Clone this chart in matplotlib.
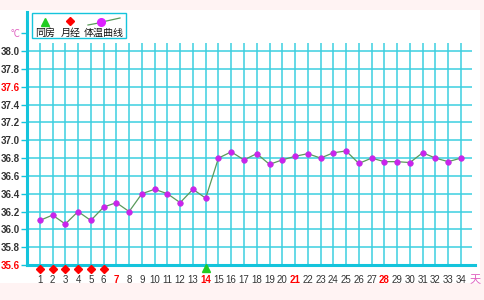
import matplotlib
matplotlib.use("Agg")
import matplotlib.pyplot as plt
from matplotlib.patches import Rectangle
from matplotlib.lines import Line2D

days = list(range(1, 35))
temps = [36.10, 36.16, 36.06, 36.20, 36.10, 36.25, 36.30, 36.20, 36.40, 36.45,
         36.40, 36.30, 36.45, 36.35, 36.80, 36.87, 36.78, 36.85, 36.73, 36.78,
         36.82, 36.85, 36.80, 36.86, 36.88, 36.74, 36.80, 36.76, 36.76, 36.75,
         36.86, 36.80, 36.76, 36.80]
period_days = [1, 2, 3, 4, 5, 6]
intercourse_days = [14]
red_day_labels = [7, 14, 21, 28]
y_ticks = [38.0, 37.8, 37.6, 37.4, 37.2, 37.0, 36.8, 36.6, 36.4, 36.2, 36.0, 35.8, 35.6]
red_y_ticks = [37.6, 35.6]
legend_labels = ["同房", "月经", "体温曲线"]

plt.rcParams['font.family'] = ['Liberation Sans', 'Noto Sans CJK SC', 'DejaVu Sans']

W, H = 484, 300
fig = plt.figure(figsize=(W / 100, H / 100), dpi=100)
fig.patch.set_facecolor('#FFF3F3')
fig.patches.append(Rectangle((0, 17 / H), 480 / W, (283 - 10) / H, transform=fig.transFigure,
                             facecolor='white', edgecolor='none', zorder=0))

grid_c = '#3CCFE0'
axis_c = '#14C4DC'

x0, x1 = 27, 475
yb, yt = 265, 12
ax = fig.add_axes([x0 / W, 1 - yb / H, (x1 - x0) / W, (yb - yt) / H])
ax.set_zorder(1)
ax.set_facecolor('none')
ax.set_xlim(0, 35.1)
ax.set_ylim(35.6, 38.44)

# grid
ax.hlines([v for v in y_ticks if v > 35.6], 0, 34.9, colors=grid_c, linewidth=1.1, zorder=1)
ax.vlines(days, 35.6, 38.09, colors=grid_c, linewidth=1.1, zorder=1)

for s in ['top', 'right']:
    ax.spines[s].set_visible(False)
ax.spines['left'].set_color(axis_c)
ax.spines['left'].set_linewidth(2.2)
ax.spines['bottom'].set_color(axis_c)
ax.spines['bottom'].set_linewidth(2.2)

# curve
ax.plot(days, temps, color='#5A9A5A', linewidth=0.9, zorder=3)
ax.plot(days, temps, linestyle='none', marker='o', markersize=4,
        markerfacecolor='#CC22EE', markeredgecolor='#BB33DD', markeredgewidth=0.5, zorder=4)

# bottom markers
my = 35.6 - 4 / 89.17
ax.plot(period_days, [my] * len(period_days), linestyle='none', marker='D', markersize=4,
        color='#FF0000', clip_on=False, zorder=5)
ax.plot(intercourse_days, [my + 0.01] * len(intercourse_days), linestyle='none', marker='^',
        markersize=5.5, color='#22CC22', clip_on=False, zorder=5)

# y ticks
ax.set_yticks(y_ticks + [38.2])
ax.set_yticklabels([f"{v:.1f}" for v in y_ticks] + ["°C"])
ax.tick_params(axis='y', length=4, width=1, color=axis_c, pad=1, labelsize=7)
for lab, v in zip(ax.get_yticklabels(), y_ticks + [38.2]):
    lab.set_fontweight('bold')
    if v == 38.2:
        lab.set_color('#E060C0')
        lab.set_fontweight('normal')
        lab.set_family(['Noto Sans CJK SC', 'DejaVu Sans'])
        lab.set_fontsize(7)
    elif v in red_y_ticks:
        lab.set_color('#FF0000')
    else:
        lab.set_color('#333333')

# x ticks
ax.set_xticks(days + [35.1])
ax.set_xticklabels([str(d) for d in days] + ["天"])
ax.tick_params(axis='x', length=0, pad=7, labelsize=7)
for lab, d in zip(ax.get_xticklabels(), days + [35]):
    if d == 35:
        lab.set_color('#E060C0')
        lab.set_family(['Noto Sans CJK SC', 'DejaVu Sans'])
        lab.set_fontsize(8)
    elif d in red_day_labels:
        lab.set_color('#FF0000')
        lab.set_fontweight('bold')
    else:
        lab.set_color('#333333')

# legend box (figure pixel coords)
def fx(px):
    return px / W

def fy(py):
    return 1 - py / H

fig.patches.append(Rectangle((fx(32), fy(38)), (126 - 32) / W, (38 - 13) / H,
                             transform=fig.transFigure, facecolor='white',
                             edgecolor=axis_c, linewidth=1, zorder=6))
fig.lines.append(Line2D([fx(45)], [fy(22)], marker='^', markersize=6, color='#22CC22',
                        linestyle='none', transform=fig.transFigure, zorder=7))
fig.lines.append(Line2D([fx(70)], [fy(21)], marker='D', markersize=4.5, color='#FF0000',
                        linestyle='none', transform=fig.transFigure, zorder=7))
fig.lines.append(Line2D([fx(88), fx(96), fx(102), fx(120)], [fy(25), fy(23.5), fy(22), fy(18)],
                        color='#5A9A5A', linewidth=0.9, transform=fig.transFigure, zorder=7))
fig.lines.append(Line2D([fx(101)], [fy(21.5)], marker='o', markersize=5.5, color='#DD22FF',
                        linestyle='none', transform=fig.transFigure, zorder=8))
for txt, px in zip(legend_labels, [45, 71, 104]):
    fig.text(fx(px), fy(32.5), txt, ha='center', va='center', fontsize=7.2,
             family=['Noto Sans CJK SC', 'DejaVu Sans'], color='#111111', zorder=9)

fig.savefig('out.png', dpi=100, facecolor=fig.get_facecolor())
